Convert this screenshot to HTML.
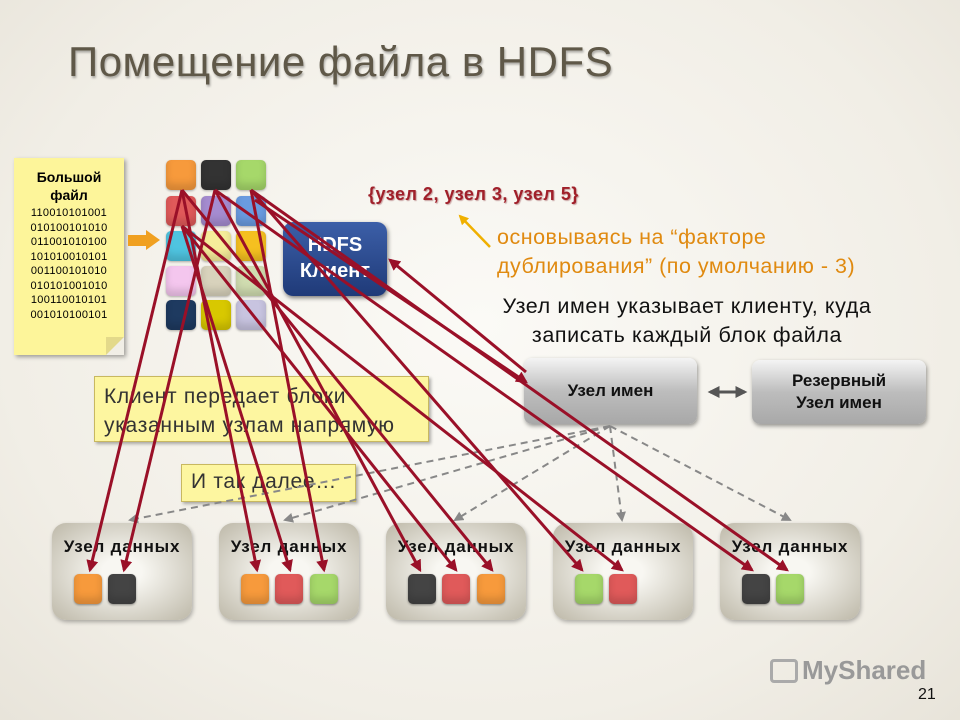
<!DOCTYPE html>
<html><head><meta charset="utf-8"><style>
body{margin:0;width:960px;height:720px;overflow:hidden;font-family:"Liberation Sans",sans-serif;
background:radial-gradient(ellipse at 50% 45%,#fbfaf6 0%,#f1eee6 70%,#e8e4da 100%);position:relative}
.a{position:absolute}
.b{position:absolute;width:30px;height:30px;border-radius:5px;box-shadow:inset 0 -6px 8px rgba(0,0,0,.15),0 1px 2px rgba(0,0,0,.3)}
.s{position:absolute;width:28px;height:30px;border-radius:5px;top:574px;box-shadow:inset 0 -6px 8px rgba(0,0,0,.15),0 1px 2px rgba(0,0,0,.4)}
.dn{position:absolute;top:523px;width:140px;height:97px;border-radius:14px;background:radial-gradient(ellipse at 50% 50%,#f8f7f2 20%,#bdb8a8 100%);box-shadow:1px 2px 4px rgba(0,0,0,.3)}
.dn div{text-align:center;font-weight:bold;font-size:17px;margin-top:14px;color:#111;letter-spacing:0.8px;white-space:nowrap;margin-left:-10px;margin-right:-10px}
.nn{position:absolute;border-radius:8px;background:linear-gradient(#f4f4f4,#bdbdbd 50%,#a8a8a8);box-shadow:1px 2px 4px rgba(0,0,0,.4);font-weight:bold;font-size:17px;text-align:center;color:#111}
</style></head><body>
<div class="a" style="left:68px;top:38px;font-size:42px;color:#5f5848;text-shadow:1px 2px 2px rgba(0,0,0,.3);letter-spacing:0.5px">Помещение файла в HDFS</div>

<div class="a" style="left:14px;top:158px;width:110px;height:197px;background:#fdf59a;box-shadow:2px 2px 4px rgba(0,0,0,.35);text-align:center">
<div style="font-weight:bold;font-size:14px;margin-top:10px;line-height:18px">Большой<br>файл</div>
<div style="font-size:11px;line-height:14.5px;letter-spacing:.3px;margin-top:2px">110010101001<br>010100101010<br>011001010100<br>101010010101<br>001100101010<br>010101001010<br>100110010101<br>001010100101</div>
<div class="a" style="right:0;bottom:0;border-left:9px solid #e3d98a;border-top:9px solid #e3d98a;border-right:9px solid #f1eee6;border-bottom:9px solid #f1eee6;width:0;height:0"></div>
</div>
<div class="a" style="left:128px;top:235px;width:18px;height:11px;background:#f0a020"></div>
<div class="a" style="left:146px;top:230px;border-left:14px solid #f0a020;border-top:10px solid transparent;border-bottom:10px solid transparent"></div>

<div class="b" style="left:166px;top:160px;background:#f79a3c"></div>
<div class="b" style="left:201px;top:160px;background:#333"></div>
<div class="b" style="left:236px;top:160px;background:#a6d86a"></div>
<div class="b" style="left:166px;top:196px;background:#e05a5a"></div>
<div class="b" style="left:201px;top:196px;background:#a58cd0"></div>
<div class="b" style="left:236px;top:196px;background:#6a9be0"></div>
<div class="b" style="left:166px;top:231px;background:#4fc4e0"></div>
<div class="b" style="left:201px;top:231px;background:#f5ec9a"></div>
<div class="b" style="left:236px;top:231px;background:#f5c020"></div>
<div class="b" style="left:166px;top:266px;background:#f4c6ee"></div>
<div class="b" style="left:201px;top:266px;background:#d8d2bc"></div>
<div class="b" style="left:236px;top:266px;background:#d0dcb0"></div>
<div class="b" style="left:166px;top:300px;background:#1e3a60"></div>
<div class="b" style="left:201px;top:300px;background:#d8c800"></div>
<div class="b" style="left:236px;top:300px;background:#c8c4e0"></div>

<div class="a" style="left:283px;top:222px;width:104px;height:74px;border-radius:10px;background:linear-gradient(#3c5fa8,#1f3a78);box-shadow:1px 2px 4px rgba(0,0,0,.5);color:#fff;font-weight:bold;font-size:20px;text-align:center;line-height:26px;padding-top:10px;box-sizing:border-box">HDFS<br>Клиент</div>

<div class="a" style="left:368px;top:184px;font-weight:bold;font-size:18px;color:#a0202a;text-shadow:1px 1px 1px #c8a0a0;letter-spacing:0.5px">{узел 2, узел 3, узел 5}</div>
<div class="a" style="left:497px;top:223px;font-size:21.5px;color:#e08a10;line-height:29px;letter-spacing:0.5px">основываясь на “факторе<br>дублирования” (по умолчанию - 3)</div>
<div class="a" style="left:480px;top:292px;width:414px;text-align:center;font-size:21.5px;line-height:29px;color:#111;letter-spacing:0.6px;white-space:nowrap">Узел имен указывает клиенту, куда<br>записать каждый блок файла</div>

<div class="nn" style="left:524px;top:358px;width:173px;height:66px;line-height:66px">Узел имен</div>
<div class="nn" style="left:752px;top:360px;width:174px;height:64px;line-height:22px;padding-top:10px;box-sizing:border-box">Резервный<br>Узел имен</div>

<div class="dn" style="left:52px"><div>Узел данных</div></div>
<div class="dn" style="left:219px"><div>Узел данных</div></div>
<div class="dn" style="left:386px"><div>Узел данных</div></div>
<div class="dn" style="left:553px"><div>Узел данных</div></div>
<div class="dn" style="left:720px"><div>Узел данных</div></div>
<div class="s" style="left:74px;background:#f79a3c"></div><div class="s" style="left:108px;background:#444"></div>
<div class="s" style="left:241px;background:#f79a3c"></div><div class="s" style="left:275px;background:#e05a5a"></div><div class="s" style="left:310px;background:#a6d86a"></div>
<div class="s" style="left:408px;background:#444"></div><div class="s" style="left:442px;background:#e05a5a"></div><div class="s" style="left:477px;background:#f79a3c"></div>
<div class="s" style="left:575px;background:#a6d86a"></div><div class="s" style="left:609px;background:#e05a5a"></div>
<div class="s" style="left:742px;background:#444"></div><div class="s" style="left:776px;background:#a6d86a"></div>

<div class="a" style="left:94px;top:376px;width:335px;height:66px;background:#fdf6a0;border:1px solid #c8b860;box-sizing:border-box;box-shadow:2px 2px 3px rgba(0,0,0,.3);font-size:21px;color:#333;padding:5px 0 0 9px;line-height:29px;letter-spacing:0.7px;white-space:nowrap">Клиент передает блоки<br>указанным узлам напрямую</div>
<div class="a" style="left:181px;top:464px;width:175px;height:38px;background:#fdf6a0;border:1px solid #c8b860;box-sizing:border-box;box-shadow:2px 2px 3px rgba(0,0,0,.3);font-size:21px;color:#333;padding:5px 0 0 9px;letter-spacing:0.7px">И так далее…</div>

<svg class="a" style="left:0;top:0" width="960" height="720">
<defs>
<marker id="r2" viewBox="0 0 10 10" markerWidth="12" markerHeight="12" refX="8" refY="5" orient="auto" markerUnits="userSpaceOnUse"><path d="M0,0L10,5L0,10z" fill="#9a1028"/></marker>
<marker id="g" viewBox="0 0 10 10" markerWidth="10" markerHeight="10" refX="8" refY="5" orient="auto-start-reverse" markerUnits="userSpaceOnUse"><path d="M0,0L10,5L0,10z" fill="#888"/></marker>
<marker id="d" viewBox="0 0 10 10" markerWidth="12" markerHeight="12" refX="8" refY="5" orient="auto-start-reverse" markerUnits="userSpaceOnUse"><path d="M0,0L10,5L0,10z" fill="#555"/></marker>
<marker id="y" viewBox="0 0 10 10" markerWidth="10" markerHeight="10" refX="8" refY="5" orient="auto" markerUnits="userSpaceOnUse"><path d="M0,0L10,5L0,10z" fill="#f0b000"/></marker>
</defs>
<line x1="490" y1="247" x2="460" y2="216" stroke="#f0b000" stroke-width="2.5" marker-end="url(#y)"/>
<path d="M710,392L745,392" stroke="#555" stroke-width="3" marker-end="url(#d)" marker-start="url(#d)"/>
<g stroke="#888" stroke-width="2" stroke-dasharray="7,5" fill="none" marker-end="url(#g)">
<line x1="610" y1="426" x2="130" y2="520"/><line x1="610" y1="426" x2="285" y2="520"/><line x1="610" y1="426" x2="455" y2="520"/><line x1="610" y1="426" x2="622" y2="520"/><line x1="610" y1="426" x2="790" y2="520"/>
</g>
<g stroke="#9a1028" stroke-width="3" fill="none" marker-end="url(#r2)">
<line x1="182" y1="190" x2="90" y2="570"/><line x1="182" y1="190" x2="257" y2="570"/><line x1="182" y1="190" x2="492" y2="570"/>
<line x1="215" y1="190" x2="124" y2="570"/><line x1="215" y1="190" x2="420" y2="570"/><line x1="215" y1="190" x2="752" y2="570"/>
<line x1="251" y1="190" x2="324" y2="570"/><line x1="251" y1="190" x2="582" y2="570"/><line x1="251" y1="190" x2="787" y2="570"/>
<line x1="182" y1="226" x2="290" y2="570"/><line x1="182" y1="226" x2="456" y2="570"/><line x1="182" y1="226" x2="622" y2="570"/>
<line x1="526" y1="372" x2="390" y2="260"/>
<line x1="255" y1="200" x2="526" y2="382"/>
</g>
</svg>
<div class="a" style="left:770px;top:655px;font-size:26px;color:#999;font-weight:bold"><span style="display:inline-block;width:28px;height:24px;border:3px solid #aaa;border-radius:4px;vertical-align:-4px;margin-right:4px;box-sizing:border-box"></span>MyShared</div>
<div class="a" style="left:918px;top:686px;font-size:16px;color:#111">21</div>
</body></html>
